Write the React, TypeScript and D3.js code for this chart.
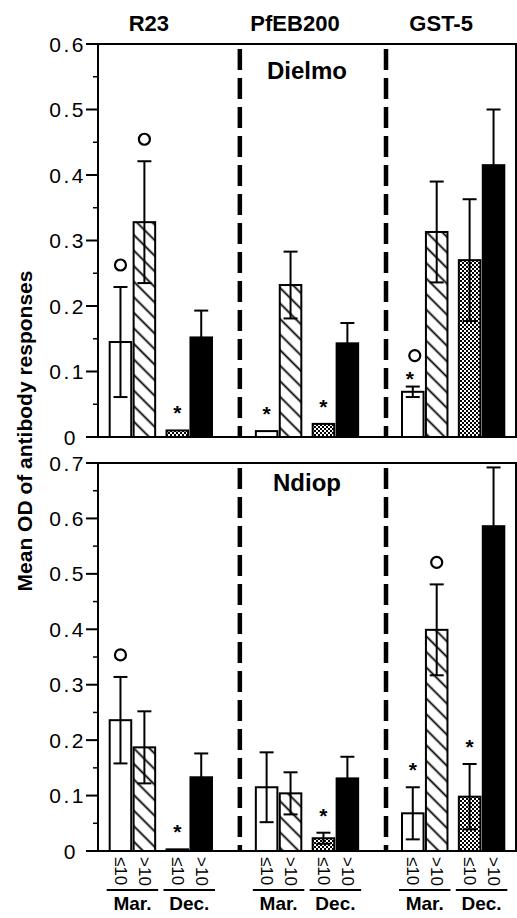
import * as d3 from "d3";

// antigens, sampling months and age classes
const antigens = ["R23", "PfEB200", "GST-5"];
const periods = ["Mar.", "Dec."];
const ages = ["≤10", ">10"];

// values are ordered antigen -> period -> age
const dielmoMeans = [0.145, 0.328, 0.01, 0.152, 0.009, 0.232, 0.02, 0.143, 0.069, 0.313, 0.27, 0.415];
const dielmoErrors = [0.084, 0.093, 0, 0.041, 0, 0.051, 0, 0.031, 0.008, 0.077, 0.093, 0.085];
const dielmoMarks = ["o", "o", "*", "", "*", "", "*", "", "*o", "", "", ""];

const ndiopMeans = [0.236, 0.187, 0.003, 0.133, 0.115, 0.104, 0.023, 0.131, 0.068, 0.399, 0.098, 0.586];
const ndiopErrors = [0.078, 0.065, 0, 0.043, 0.063, 0.038, 0.01, 0.039, 0.047, 0.082, 0.059, 0.106];
const ndiopMarks = ["o", "", "*", "", "", "", "*", "", "*", "o", "*", ""];

const width = 517;
const height = 918;
const font = "'Liberation Sans', Arial, Helvetica, sans-serif";

// fill per [period][age]
const fills = [
  ["white", "url(#hatch)"],
  ["url(#stipple)", "black"],
];

const x = d3.scaleBand<string>().domain(antigens).range([98, 516]).paddingInner(0.3).paddingOuter(0.08);
const xPeriod = d3.scaleBand<string>().domain(periods).range([0, x.bandwidth()]).paddingInner(0.2);
const xAge = d3.scaleBand<string>().domain(ages).range([0, xPeriod.bandwidth()]).paddingInner(0.1);

function barX(gi: number, pi: number, ai: number) {
  return (x(antigens[gi]) ?? 0) + (xPeriod(periods[pi]) ?? 0) + (xAge(ages[ai]) ?? 0);
}

function Panel({ means, errors, marks, yMax, yBottom, yTop, label, labelY }: any) {
  const y = d3.scaleLinear().domain([0, yMax]).range([yBottom, yTop]);
  const major = y.ticks(Math.round(yMax * 10));
  const minor = y.ticks(Math.round(yMax * 20)).filter((v) => Math.round(v * 20) % 2 === 1);
  const bw = xAge.bandwidth();
  const left = 98;
  const right = 516;

  return (
    <g>
      {/* frame */}
      <rect x={left} y={yTop} width={right - left} height={yBottom - yTop} fill="none" stroke="black" strokeWidth={2} />

      {/* dashed separators between antigens */}
      {antigens.slice(1).map((g) => (
        <line
          key={g}
          x1={(x(g) ?? 0) - 16}
          x2={(x(g) ?? 0) - 16}
          y1={yTop + 5}
          y2={yBottom}
          stroke="black"
          strokeWidth={4.5}
          strokeDasharray="21 8"
        />
      ))}

      {/* y ticks */}
      {major.map((v) => (
        <g key={"t" + v}>
          <line x1={left - 12} x2={left} y1={y(v)} y2={y(v)} stroke="black" strokeWidth={2} />
          <text
            x={v === 0 ? 78 : 86}
            y={y(v)}
            textAnchor="end"
            dominantBaseline="central"
            fontSize={21}
            letterSpacing={2.5}
            fontFamily={font}
          >
            {v === 0 ? "0" : d3.format(".1f")(v)}
          </text>
        </g>
      ))}
      {minor.map((v) => (
        <line key={"m" + v} x1={left - 5} x2={left} y1={y(v)} y2={y(v)} stroke="black" strokeWidth={1.5} />
      ))}

      {/* bars */}
      {means.map((m: number, i: number) => {
        const gi = Math.floor(i / 4);
        const pi = Math.floor((i % 4) / 2);
        const ai = i % 2;
        const bx = barX(gi, pi, ai);
        const cx = bx + bw / 2;
        const err = errors[i];
        const top = y(m + err);
        const mark = marks[i];
        return (
          <g key={i}>
            <rect x={bx} y={y(m)} width={bw} height={yBottom - y(m)} fill={fills[pi][ai]} stroke="black" strokeWidth={2} />
            {err > 0 && (
              <g stroke="black" strokeWidth={2}>
                <line x1={cx} x2={cx} y1={y(m - err)} y2={top} />
                <line x1={cx - 7} x2={cx + 7} y1={top} y2={top} />
                <line x1={cx - 7} x2={cx + 7} y1={y(m - err)} y2={y(m - err)} />
              </g>
            )}
            {mark === "o" && <circle cx={cx} cy={top - 22} r={5.5} fill="none" stroke="black" strokeWidth={2.2} />}
            {mark === "*" && (
              <text x={cx} y={top - 22 + 12} textAnchor="middle" fontSize={21} fontWeight="bold" fontFamily={font}>
                *
              </text>
            )}
            {mark === "*o" && (
              <g>
                <text x={cx - 3} y={top - 13 + 12} textAnchor="middle" fontSize={21} fontWeight="bold" fontFamily={font}>
                  *
                </text>
                <circle cx={cx + 2} cy={top - 31} r={5.5} fill="none" stroke="black" strokeWidth={2.2} />
              </g>
            )}
          </g>
        );
      })}

      {/* site label */}
      <text
        x={(x(antigens[1]) ?? 0) + x.bandwidth() / 2}
        y={labelY}
        textAnchor="middle"
        dominantBaseline="central"
        fontSize={24}
        fontWeight="bold"
        fontFamily={font}
      >
        {label}
      </text>
    </g>
  );
}

export default function App() {
  return (
    <svg width={width} height={height} style={{ position: "absolute", left: 0, top: 0, background: "white" }}>
      <defs>
        <pattern id="hatch" width={11} height={11} patternUnits="userSpaceOnUse" patternTransform="rotate(45)">
          <rect width={11} height={11} fill="white" />
          <line x1={0} x2={11} y1={5.5} y2={5.5} stroke="black" strokeWidth={1.8} />
        </pattern>
        <pattern id="stipple" width={4} height={4} patternUnits="userSpaceOnUse">
          <rect width={4} height={4} fill="white" />
          <rect width={2} height={2} fill="black" />
          <rect x={2} y={2} width={2} height={2} fill="black" />
        </pattern>
      </defs>

      {/* antigen headers */}
      {antigens.map((g) => (
        <text
          key={g}
          x={(x(g) ?? 0) + x.bandwidth() / 2 - 12}
          y={23}
          textAnchor="middle"
          dominantBaseline="central"
          fontSize={22}
          fontWeight="bold"
          fontFamily={font}
        >
          {g}
        </text>
      ))}

      <Panel
        means={dielmoMeans}
        errors={dielmoErrors}
        marks={dielmoMarks}
        yMax={0.6}
        yBottom={437}
        yTop={44}
        label="Dielmo"
        labelY={70}
      />
      <Panel
        means={ndiopMeans}
        errors={ndiopErrors}
        marks={ndiopMarks}
        yMax={0.7}
        yBottom={851}
        yTop={463}
        label="Ndiop"
        labelY={482}
      />

      {/* y axis title */}
      <text
        transform="translate(24,431) rotate(-90)"
        textAnchor="middle"
        dominantBaseline="central"
        fontSize={21}
        fontWeight="bold"
        fontFamily={font}
      >
        Mean OD of antibody responses
      </text>

      {/* age classes and months under the bottom panel */}
      {antigens.map((g, gi) =>
        periods.map((p, pi) => {
          const px = (x(g) ?? 0) + (xPeriod(p) ?? 0);
          return (
            <g key={g + p}>
              {ages.map((a, ai) => (
                <text
                  key={a}
                  transform={`translate(${barX(gi, pi, ai) + xAge.bandwidth() / 2},857) rotate(90)`}
                  textAnchor="start"
                  dominantBaseline="central"
                  fontSize={17}
                  fontFamily={font}
                >
                  {a}
                </text>
              ))}
              <line x1={px - 3} x2={px + xPeriod.bandwidth() + 3} y1={890} y2={890} stroke="black" strokeWidth={2} />
              <text
                x={px + xPeriod.bandwidth() / 2}
                y={910}
                textAnchor="middle"
                fontSize={19}
                fontWeight="bold"
                fontFamily={font}
              >
                {p}
              </text>
            </g>
          );
        })
      )}
    </svg>
  );
}
